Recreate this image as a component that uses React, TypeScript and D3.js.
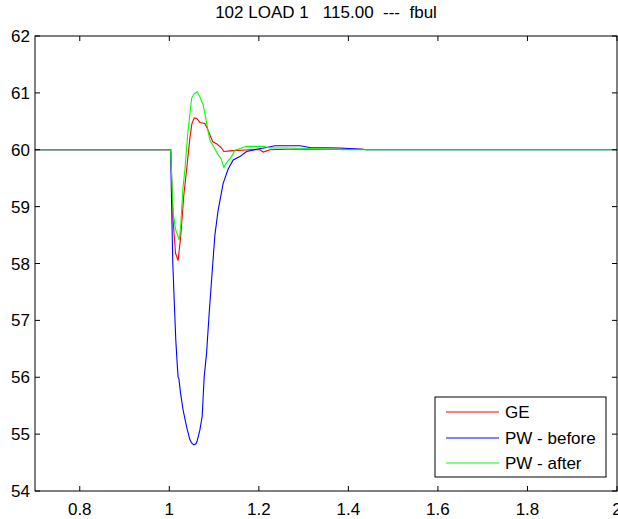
import React from "react";
import * as d3 from "d3";

const titleText = "102 LOAD 1   115.00  ---  fbul";
const xTicks = [0.8, 1.0, 1.2, 1.4, 1.6, 1.8, 2.0];
const yTicks = [54, 55, 56, 57, 58, 59, 60, 61, 62];
const seriesNames = ["GE", "PW - before", "PW - after"];
const seriesColors = ["#ff0000", "#0000ff", "#00ff00"];

const geT = [0.7, 1.0, 1.003, 1.0085, 1.0139, 1.0197, 1.0257, 1.0324, 1.0385, 1.0459, 1.0503, 1.0555, 1.0615, 1.0682, 1.0794, 1.0861, 1.0928, 1.0973, 1.1063, 1.1168, 1.1219, 1.1353, 1.18, 1.2025, 1.21, 1.225, 1.262, 1.4334];
const geV = [60, 60, 60, 58.76, 58.18, 58.05, 58.5, 59.2, 59.64, 60.2, 60.45, 60.56, 60.55, 60.48, 60.46, 60.35, 60.22, 60.14, 60.1, 60.03, 59.97, 59.98, 60.0, 60.0, 59.96, 60.0, 60.01, 60.01];

const pwbT = [0.7, 1.0, 1.003, 1.0045, 1.0078, 1.0112, 1.0145, 1.0179, 1.0197, 1.0213, 1.0251, 1.0309, 1.0385, 1.0459, 1.0503, 1.0548, 1.0593, 1.0622, 1.0682, 1.0734, 1.0779, 1.0832, 1.089, 1.0944, 1.1018, 1.1091, 1.1203, 1.1315, 1.1427, 1.1577, 1.1727, 1.1951, 1.2174, 1.236, 1.2919, 1.3143, 1.3814, 1.4326, 1.44, 2.0];
const pwbV = [60, 60, 60, 59.3, 58.0, 57.3, 56.65, 56.2, 56.0, 55.98, 55.72, 55.42, 55.13, 54.9, 54.84, 54.81, 54.83, 54.88, 55.07, 55.31, 56.01, 56.42, 57.12, 57.71, 58.5, 58.94, 59.41, 59.66, 59.82, 59.88, 59.97, 60.01, 60.04, 60.07, 60.07, 60.04, 60.03, 60.01, 60.0, 60.0];

const pwaT = [0.7, 1.0, 1.003, 1.0085, 1.0139, 1.0224, 1.0257, 1.0302, 1.0347, 1.0414, 1.0497, 1.0548, 1.0622, 1.0682, 1.0756, 1.0816, 1.0861, 1.0906, 1.0995, 1.1091, 1.1152, 1.1219, 1.1286, 1.1391, 1.1465, 1.1727, 1.2098, 1.2248, 1.2621, 1.3814, 1.3859, 2.0];
const pwaV = [60, 60, 60, 58.9, 58.6, 58.41, 58.7, 59.3, 59.64, 60.3, 60.9, 60.98, 61.02, 60.93, 60.79, 60.55, 60.35, 60.17, 60.05, 59.91, 59.85, 59.69, 59.78, 59.88, 59.99, 60.06, 60.06, 60.03, 60.03, 60.01, 60.0, 60.0];

const W = 618;
const H = 519;
const L = 35, R = 617, T = 36, B = 491;
const FONT = "'Liberation Sans', Arial, sans-serif";
const FS = 17;
const TICK = 5;

export default function App() {
  const x = d3.scaleLinear().domain([0.7, 2.0]).range([L, R]);
  const y = d3.scaleLinear().domain([54, 62]).range([B, T]);
  const line = d3
    .line<[number, number]>()
    .x((d) => x(d[0]))
    .y((d) => y(d[1]));
  const series = [
    { t: geT, v: geV },
    { t: pwbT, v: pwbV },
    { t: pwaT, v: pwaV },
  ];

  const legX = 435, legY = 397, legW = 171, legH = 80;
  const rowY = [412, 438, 463];

  return (
    <svg
      width={W}
      height={H}
      style={{ position: "absolute", left: 0, top: 0, display: "block", background: "#fff" }}
      fontFamily={FONT}
    >
      <defs>
        <clipPath id="plotclip">
          <rect x={L} y={T} width={R - L} height={B - T} />
        </clipPath>
      </defs>
      <rect x={0} y={0} width={W} height={H} fill="#fff" />
      <text
        x={(L + R) / 2}
        y={18}
        textAnchor="middle"
        fontSize={FS}
        style={{ whiteSpace: "pre" }}
        fill="#000"
      >
        {titleText}
      </text>
      <g clipPath="url(#plotclip)" fill="none" strokeWidth={1.1}>
        {series.map((s, i) => (
          <path
            key={i}
            d={line(s.t.map((t, j) => [t, s.v[j]] as [number, number])) || ""}
            stroke={seriesColors[i]}
          />
        ))}
      </g>
      <rect x={L} y={T} width={R - L} height={B - T} fill="none" stroke="#000" strokeWidth={1} />
      {xTicks.map((t) => (
        <g key={"x" + t}>
          <line x1={x(t)} x2={x(t)} y1={B} y2={B - TICK} stroke="#000" />
          <line x1={x(t)} x2={x(t)} y1={T} y2={T + TICK} stroke="#000" />
          <text x={x(t)} y={515} textAnchor="middle" fontSize={FS} fill="#000">
            {d3.format("~g")(t)}
          </text>
        </g>
      ))}
      {yTicks.map((v) => (
        <g key={"y" + v}>
          <line x1={L} x2={L + TICK} y1={y(v)} y2={y(v)} stroke="#000" />
          <line x1={R} x2={R - TICK} y1={y(v)} y2={y(v)} stroke="#000" />
          <text x={L - 5} y={y(v)} dy="0.36em" textAnchor="end" fontSize={FS} fill="#000">
            {v}
          </text>
        </g>
      ))}
      <rect x={legX} y={legY} width={legW} height={legH} fill="#fff" stroke="#000" strokeWidth={1} />
      {seriesNames.map((n, i) => (
        <g key={n}>
          <line x1={446} x2={499} y1={rowY[i]} y2={rowY[i]} stroke={seriesColors[i]} strokeWidth={1.1} />
          <text x={505} y={rowY[i]} dy="0.36em" fontSize={FS} fill="#000">
            {n}
          </text>
        </g>
      ))}
    </svg>
  );
}
